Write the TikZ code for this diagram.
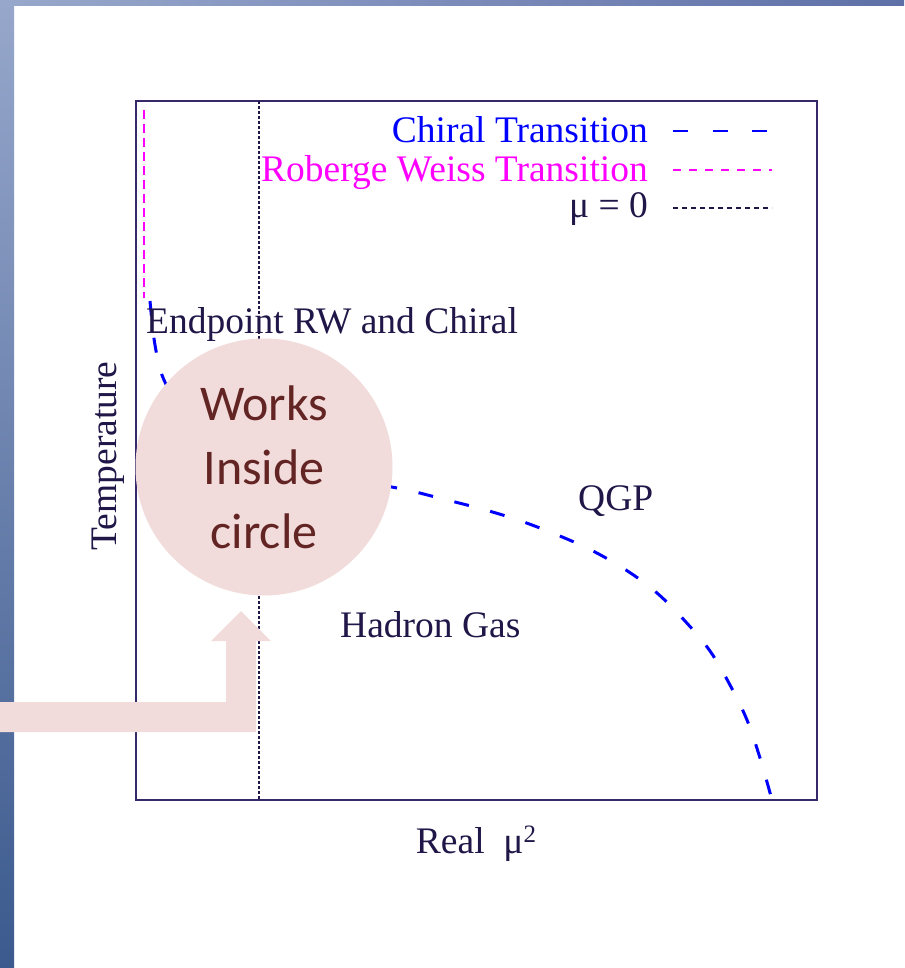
\documentclass[tikz,border=0pt]{standalone}
\usepackage{fontspec}
\setmainfont{Liberation Serif}
\newfontfamily\calibrifont{Carlito}
\definecolor{barTop}{RGB}{151,167,203}
\definecolor{barBot}{RGB}{60,90,142}
\definecolor{barRight}{RGB}{95,112,168}
\definecolor{boxink}{RGB}{55,40,105}
\definecolor{txtink}{RGB}{32,22,72}
\definecolor{chiralblue}{RGB}{0,0,255}
\definecolor{rwmag}{RGB}{255,0,255}
\definecolor{circpink}{RGB}{242,220,219}
\definecolor{circtext}{RGB}{99,37,35}
\begin{document}
\begin{tikzpicture}[x=1pt,y=-1pt,
  plotlabel/.style={text=txtink,font=\fontsize{37.5}{42}\selectfont,inner sep=0pt},
  boxline/.style={draw=boxink,line width=1.6pt},
  chiralline/.style={draw=chiralblue,line width=3pt,dash pattern=on 15pt off 22pt},
  chiralkey/.style={draw=chiralblue,line width=2.8pt,dash pattern=on 15pt off 24.5pt},
  rwline/.style={draw=rwmag,line width=1.6pt,dash pattern=on 9pt off 5pt},
  rwkey/.style={draw=rwmag,line width=1.6pt,dash pattern=on 8pt off 8pt},
  muline/.style={draw=txtink,line width=1.4pt,dash pattern=on 3pt off 2pt},
  mukey/.style={draw=txtink,line width=1.4pt,dash pattern=on 5pt off 4pt},
  callout/.style={fill=circpink}]
\useasboundingbox (0,0) rectangle (904,968);
\fill[white] (0,0) rectangle (904,968);
% slide decoration bars
\shade[top color=barTop,bottom color=barBot] (0,0) rectangle (14,968);
\shade[left color=barTop,right color=barRight] (14,0) rectangle (904,6);
% plot frame
\coordinate (bl) at (136,800);
\coordinate (tr) at (817,101);
\draw[boxline] (bl) rectangle (tr);
% mu = 0 line
\coordinate (mutop) at (259,101);
\coordinate (mubot) at (259,800);
\draw[muline] (mutop) -- (mubot);
% Roberge Weiss line
\coordinate (rwtop) at (144,110);
\coordinate (rwend) at (144,298);
\draw[rwline] (rwtop) -- (rwend);
% chiral transition
\draw[chiralline] plot[smooth,tension=0.6] coordinates {(150,301) (155,345) (164,380) (185,412) (225,442) (300,469) (370,483) (407,490) (443,499) (482,509) (518,520) (555,534) (591,550) (626,570) (657,593) (685,621) (710,651) (730,685) (747,720) (760,758) (772,800)};
% legend
\node[plotlabel,text=chiralblue,anchor=base east] (lchiral) at (648,143) {Chiral Transition};
\node[plotlabel,text=rwmag,anchor=base east] (lrw) at (648,182) {Roberge Weiss Transition};
\node[plotlabel,anchor=base east] (lmu) at (648,218) {μ = 0};
\coordinate (k1a) at (673,131); \coordinate (k1b) at (770,131);
\coordinate (k2a) at (673,170); \coordinate (k2b) at (772,170);
\coordinate (k3a) at (673,208); \coordinate (k3b) at (772,208);
\draw[chiralkey] (k1a) -- (k1b);
\draw[rwkey] (k2a) -- (k2b);
\draw[mukey] (k3a) -- (k3b);
% labels
\node[plotlabel,anchor=base west] (endpt) at (146,333) {Endpoint RW and Chiral};
\node[plotlabel,anchor=base west] (qgp) at (578,510) {QGP};
\node[plotlabel,anchor=base west] (hadron) at (340,637) {Hadron Gas};
\node[plotlabel,anchor=base,rotate=90] (temp) at (116,456) {Temperature};
\node[plotlabel,anchor=base] (realmu) at (476,853) {Real\ \ μ\raisebox{11pt}{\fontsize{25}{28}\selectfont 2}};
% callout arrow
\fill[callout] (0,702) -- (226,702) -- (226,641) -- (211,641) -- (241,611) -- (271,641) -- (256,641) -- (256,732) -- (0,732) -- cycle;
% callout circle
\node[callout,circle,minimum size=257pt,inner sep=0pt,text=circtext,align=center,
  font=\calibrifont\fontsize{50}{64}\selectfont] (works) at (264,467) {Works\\Inside\\circle};
\end{tikzpicture}
\end{document}
